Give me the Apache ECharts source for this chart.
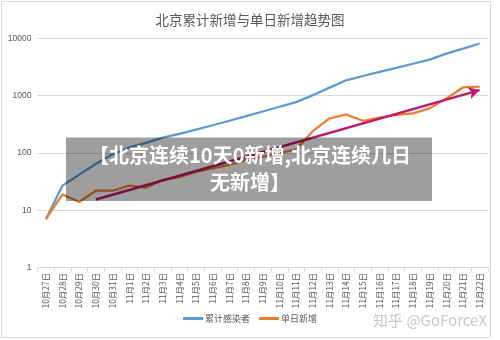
<!DOCTYPE html>
<html>
<head>
<meta charset="utf-8">
<script src="https://cdn.jsdelivr.net/npm/echarts@6/dist/echarts.min.js"></script>
<style>
  html, body { margin: 0; padding: 0; background: #fff; }
  #chart { width: 500px; height: 340px; }
</style>
</head>
<body>
<div id="chart"></div>
<script>
// Dates on the horizontal axis
const categories = [
  '10月27日', '10月28日', '10月29日', '10月30日', '10月31日',
  '11月1日', '11月2日', '11月3日', '11月4日', '11月5日', '11月6日',
  '11月7日', '11月8日', '11月9日', '11月10日', '11月11日', '11月12日',
  '11月13日', '11月14日', '11月15日', '11月16日', '11月17日', '11月18日',
  '11月19日', '11月20日', '11月21日', '11月22日'
];

// Cumulative infections
const cumulative = [
  7, 27, 42, 65, 95, 125, 150, 185, 215, 255, 305, 365, 440, 530,
  640, 770, 1020, 1380, 1850, 2200, 2600, 3050, 3600, 4250, 5400, 6600, 8100
];

// New cases per day
const daily = [
  7, 19, 14, 22, 22, 27, 25, 34, 38, 47, 54, 62, 75, 86,
  100, 115, 240, 400, 470, 365, 415, 460, 490, 600, 890, 1390, 1430
];

// Trend arrow end points (date, value)
const trendFrom = ['10月30日', 15.5];
const trendTo = ['11月22日', 1250];

// Log axis ticks
const yTicks = [1, 10, 100, 1000, 10000];

const headline = '【北京连续10天0新增,北京连续几日\n无新增】';

const chart = echarts.init(document.getElementById('chart'), null, { renderer: 'canvas' });

const textColor = '#595959';
const fontFamily = '"Noto Sans CJK SC", "Liberation Sans", sans-serif';

chart.setOption({
  animation: false,
  backgroundColor: '#ffffff',
  title: {
    text: '北京累计新增与单日新增趋势图',
    left: 'center',
    top: 8,
    textStyle: { color: textColor, fontSize: 13.5, fontWeight: 'normal', fontFamily }
  },
  legend: {
    bottom: 12,
    left: 'center',
    icon: 'rect',
    itemWidth: 20,
    itemHeight: 3,
    itemGap: 9,
    textStyle: { color: textColor, fontSize: 9, fontFamily, padding: [0, 0, 0, -3] },
    data: ['累计感染者', '单日新增']
  },
  grid: { left: 37.5, right: 12, top: 38.3, bottom: 72.3, containLabel: false },
  xAxis: {
    type: 'category',
    data: categories,
    boundaryGap: true,
    axisLine: { show: true, lineStyle: { color: '#d9d9d9', width: 1 } },
    axisTick: { show: true, length: 4, lineStyle: { color: '#d9d9d9' } },
    axisLabel: {
      rotate: 90,
      interval: 0,
      margin: 5,
      color: textColor,
      fontSize: 8.5,
      fontFamily
    },
    splitLine: { show: false }
  },
  yAxis: {
    type: 'log',
    logBase: 10,
    min: yTicks[0],
    max: yTicks[yTicks.length - 1],
    axisLine: { show: false },
    axisTick: { show: false },
    axisLabel: {
      color: textColor,
      fontSize: 8.5,
      margin: 6,
      fontFamily: '"Liberation Sans", sans-serif',
      formatter: (v) => String(Math.round(v))
    },
    splitLine: { show: true, lineStyle: { color: '#d9d9d9', width: 1 } }
  },
  series: [
    {
      name: '累计感染者',
      type: 'line',
      data: cumulative,
      symbol: 'none',
      lineStyle: { color: '#5B9BD5', width: 2.25 },
      itemStyle: { color: '#5B9BD5' },
      z: 3
    },
    {
      name: '单日新增',
      type: 'line',
      data: daily,
      symbol: 'none',
      lineStyle: { color: '#ED7D31', width: 2.25 },
      itemStyle: { color: '#ED7D31' },
      z: 4,
      markLine: {
        silent: true,
        symbol: ['none', 'arrow'],
        symbolSize: [9, 11],
        label: { show: false },
        lineStyle: { color: '#C2186B', width: 2.5, type: 'solid' },
        emphasis: { disabled: true },
        data: [[{ coord: trendFrom }, { coord: trendTo }]]
      }
    }
  ],
  graphic: [
    {
      type: 'rect',
      silent: true,
      z: 0,
      shape: { x: 1.5, y: 1.5, width: 489, height: 336 },
      style: { fill: 'none', stroke: '#d9d9d9', lineWidth: 1 }
    },
    {
      type: 'rect',
      silent: true,
      z: 100,
      shape: { x: 66, y: 137.5, width: 366, height: 63.5 },
      style: { fill: 'rgba(0,0,0,0.38)' }
    },
    {
      type: 'text',
      silent: true,
      z: 101,
      x: 250,
      y: 142,
      style: {
        text: headline,
        fill: '#ffffff',
        font: 'bold 20px "Noto Sans CJK SC", sans-serif',
        textAlign: 'center',
        textVerticalAlign: 'top',
        lineHeight: 27
      }
    },
    {
      type: 'text',
      silent: true,
      z: 101,
      x: 487,
      y: 320,
      style: {
        text: '知乎 @GoForceX',
        fill: '#c8c8c8',
        font: '15px "Noto Sans CJK SC", sans-serif',
        textAlign: 'right',
        textVerticalAlign: 'middle'
      }
    }
  ]
});
</script>
</body>
</html>
